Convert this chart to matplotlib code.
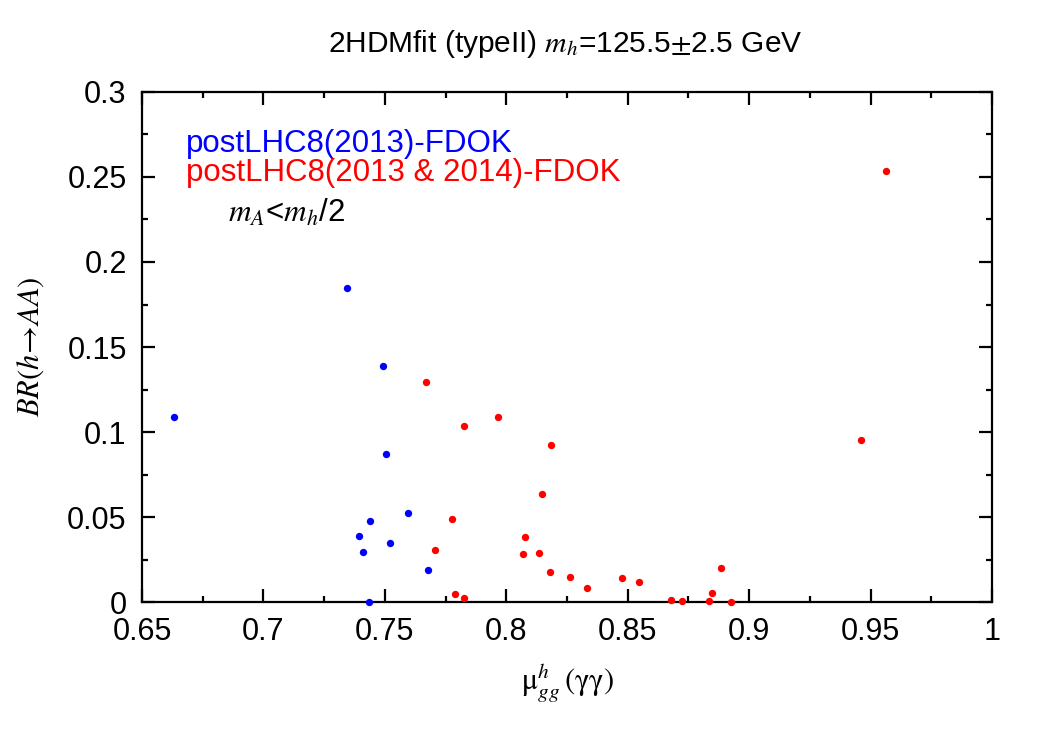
import numpy as np
import matplotlib.pyplot as plt
from matplotlib.ticker import MultipleLocator

# postLHC8(2013)-FDOK points
mu_2013 = [0.6631, 0.7343, 0.7491, 0.7506, 0.7595, 0.7440, 0.7394,
           0.7520, 0.7411, 0.7676, 0.7433]
br_2013 = [0.1086, 0.1845, 0.1390, 0.0871, 0.0522, 0.0476, 0.0388,
           0.0345, 0.0294, 0.0190, 0.0000]

# postLHC8(2013 & 2014)-FDOK points
mu_2014 = [0.7671, 0.7967, 0.7825, 0.8183, 0.8147, 0.7778, 0.8078,
           0.7705, 0.8070, 0.8136, 0.8179, 0.8264, 0.8332, 0.7790,
           0.7825, 0.8478, 0.8546, 0.8678, 0.8724, 0.8836, 0.8846,
           0.8883, 0.8927, 0.9459, 0.9565]
br_2014 = [0.1294, 0.1086, 0.1035, 0.0922, 0.0633, 0.0490, 0.0380,
           0.0308, 0.0282, 0.0290, 0.0176, 0.0145, 0.0084, 0.0047,
           0.0025, 0.0139, 0.0120, 0.0010, 0.0004, 0.0008, 0.0051,
           0.0200, 0.0000, 0.0953, 0.2535]

plt.rcParams["font.family"] = ["Liberation Sans", "DejaVu Sans"]
plt.rcParams["mathtext.fontset"] = "stix"

fig = plt.figure(figsize=(10.5, 7.33), dpi=100)
ax = fig.add_axes([0.1352, 0.1787, 0.8096, 0.6958])

ax.scatter(mu_2013, br_2013, s=28, color="#0000ff", linewidths=0,
           clip_on=False, zorder=5)
ax.scatter(mu_2014, br_2014, s=28, color="#ff0000", linewidths=0,
           clip_on=False, zorder=5)

ax.set_xlim(0.65, 1.0)
ax.set_ylim(0, 0.3)
ax.xaxis.set_major_locator(MultipleLocator(0.05))
ax.xaxis.set_minor_locator(MultipleLocator(0.025))
ax.yaxis.set_major_locator(MultipleLocator(0.05))
ax.yaxis.set_minor_locator(MultipleLocator(0.025))
fmt = plt.FuncFormatter(lambda v, p: "{:g}".format(round(v, 3)))
ax.xaxis.set_major_formatter(fmt)
ax.yaxis.set_major_formatter(fmt)

for sp in ax.spines.values():
    sp.set_linewidth(1.6)
ax.tick_params(which="both", direction="in", top=True, right=True,
               width=1.6, labelsize=22)
ax.tick_params(which="major", length=9.5, pad=11)
ax.tick_params(which="minor", length=4.5)

ax.set_xlabel(r"$\mathrm{\mu}^{h}_{gg}\,(\mathrm{\gamma\gamma})$", fontsize=22, labelpad=10)
ax.set_ylabel(r"$BR(h\!\rightarrow\! AA)$", fontsize=22, labelpad=15)

fig.text(0.538, 0.929, r"2HDMfit (typeII) $m_h$=125.5$\pm$2.5 GeV",
         ha="center", va="baseline", fontsize=21.5)

ax.text(0.052, 0.882, "postLHC8(2013)-FDOK", transform=ax.transAxes,
        color="#0000ff", fontsize=22.5, va="baseline")
ax.text(0.052, 0.825, "postLHC8(2013 & 2014)-FDOK", transform=ax.transAxes,
        color="#ff0000", fontsize=22.5, va="baseline")
ax.text(0.101, 0.745, r"$m_A$<$m_h$/2", transform=ax.transAxes,
        color="black", fontsize=22.5, va="baseline")

fig.savefig("out.png", dpi=100)
